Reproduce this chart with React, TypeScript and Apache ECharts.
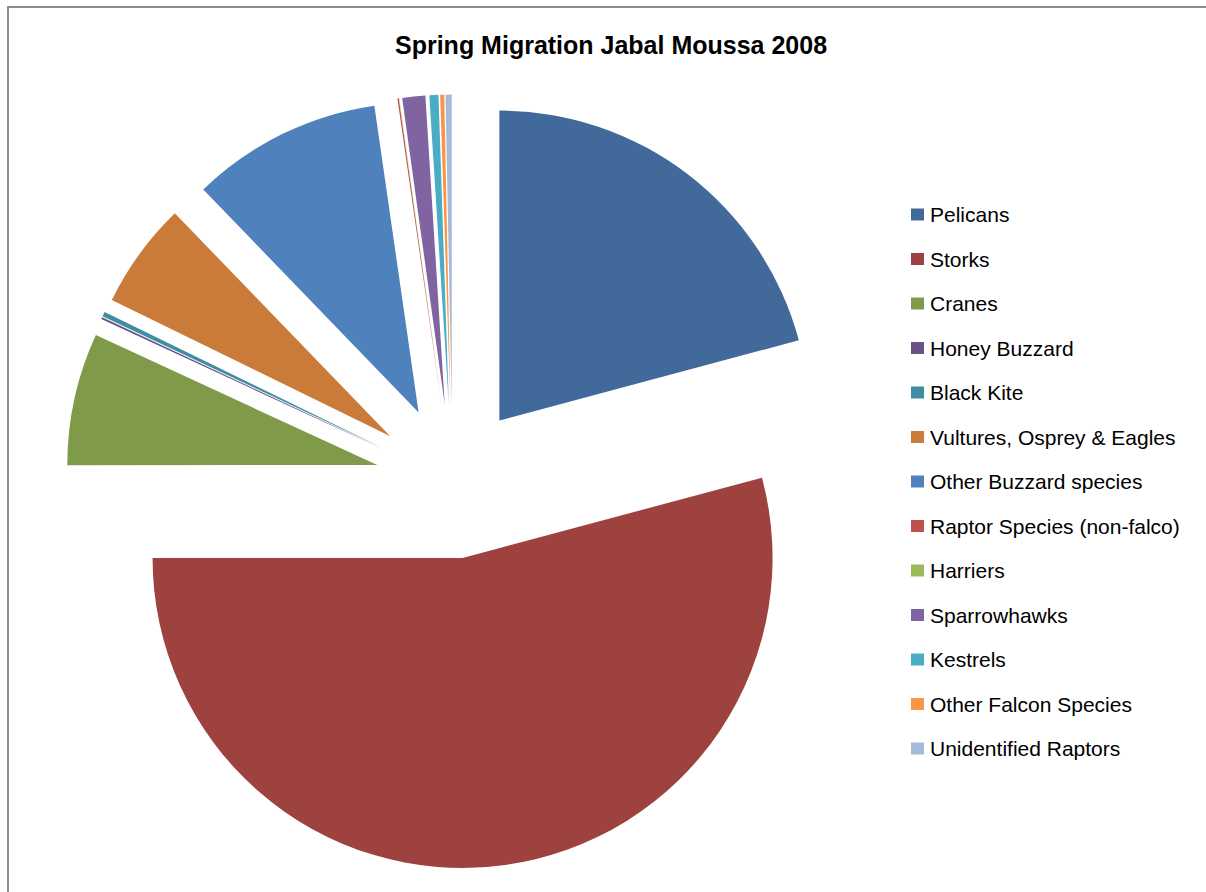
import React, { useEffect, useRef } from "react";
import * as echarts from "echarts";

const chartTitle = "Spring Migration Jabal Moussa 2008";

const categories = [
  "Pelicans",
  "Storks",
  "Cranes",
  "Honey Buzzard",
  "Black Kite",
  "Vultures, Osprey & Eagles",
  "Other Buzzard species",
  "Raptor Species (non-falco)",
  "Harriers",
  "Sparrowhawks",
  "Kestrels",
  "Other Falcon Species",
  "Unidentified Raptors",
];

const counts = [4167, 10833, 1378, 22, 50, 1106, 1989, 14, 3, 239, 94, 42, 64];

const colors = [
  "#416A9B",
  "#9D423F",
  "#7F9A48",
  "#695285",
  "#3E8DA2",
  "#CB7B39",
  "#4F81BD",
  "#C0504D",
  "#9BBB59",
  "#8064A2",
  "#4BACC6",
  "#F79646",
  "#A7B9D9",
];

const FONT = "'Liberation Sans', Arial, sans-serif";

export default function App() {
  const ref = useRef<HTMLDivElement>(null);

  useEffect(() => {
    if (!ref.current) return;
    const chart = echarts.init(ref.current, undefined, { renderer: "svg" });
    chart.setOption({
      animation: false,
      backgroundColor: "#ffffff",
      title: {
        text: chartTitle,
        left: 395,
        top: 32,
        padding: 0,
        textStyle: {
          fontFamily: FONT,
          fontSize: 25,
          fontWeight: "bold",
          color: "#000000",
        },
      },
      legend: {
        orient: "vertical",
        left: 911,
        top: 204,
        icon: "rect",
        itemWidth: 13,
        itemHeight: 12,
        itemGap: 23.5,
        padding: 0,
        selectedMode: false,
        data: categories,
        textStyle: {
          fontFamily: FONT,
          fontSize: 21,
          lineHeight: 20,
          color: "#000000",
          padding: [0, 0, 0, 1],
        },
      },
      graphic: [
        {
          type: "rect",
          shape: { x: 8, y: 7, width: 1400, height: 1000 },
          style: { fill: "none", stroke: "#8c8c8c", lineWidth: 2 },
          silent: true,
        },
      ],
      series: [
        {
          type: "pie",
          center: [452.5, 481.6],
          radius: 310,
          startAngle: 90,
          clockwise: true,
          selectedMode: "multiple",
          selectedOffset: 77,
          label: { show: false },
          labelLine: { show: false },
          emphasis: { disabled: true },
          itemStyle: { borderWidth: 0 },
          select: { itemStyle: { borderWidth: 0 } },
          data: categories.map((name, i) => ({
            name,
            value: counts[i],
            selected: true,
            itemStyle: { color: colors[i] },
          })),
        },
      ],
    });
    return () => chart.dispose();
  }, []);

  return (
    <div
      ref={ref}
      style={{ position: "absolute", left: 0, top: 0, width: 1206, height: 892 }}
    />
  );
}
